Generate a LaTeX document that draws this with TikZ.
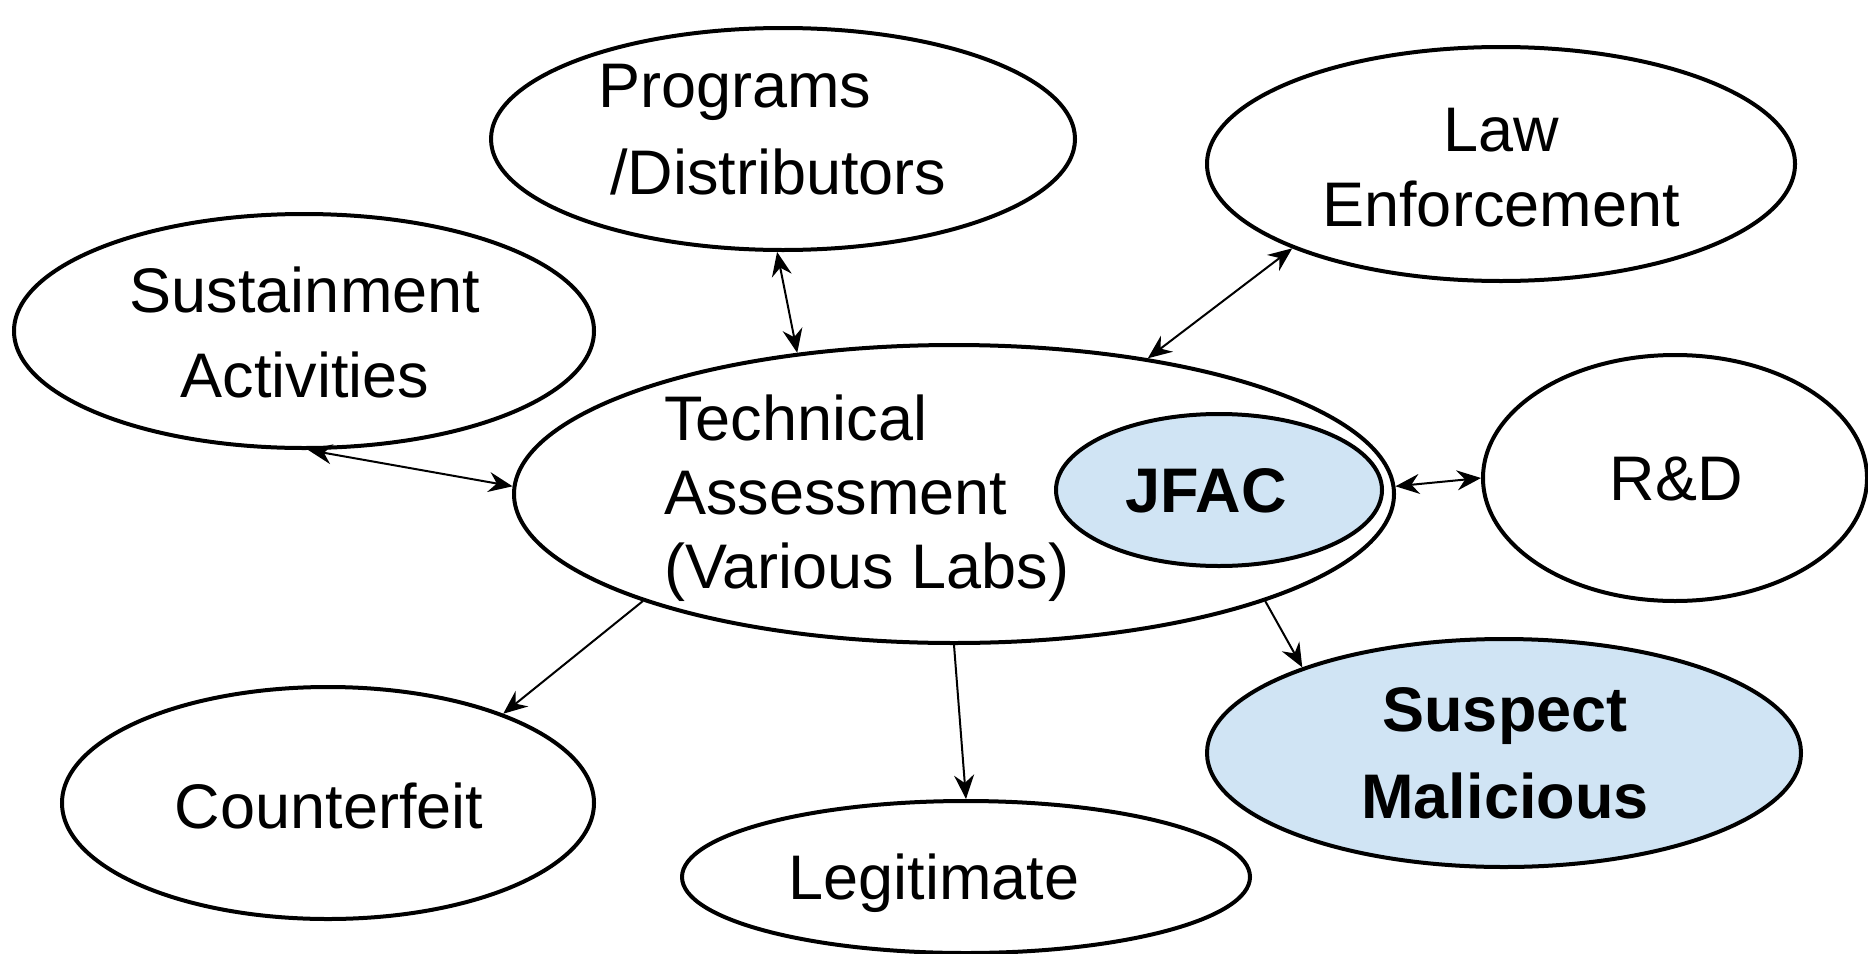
\documentclass[tikz,border=0pt]{standalone}
\usepackage{fontspec}
\setmainfont{Liberation Sans}
\usetikzlibrary{shapes.geometric,arrows.meta}
\definecolor{fillblue}{RGB}{208,228,244}
\newcommand\fsz[1]{\fontsize{31.5}{#1}\selectfont}
\begin{document}
\begin{tikzpicture}[x=0.5pt,y=-0.5pt,
  oval/.style={draw=black,line width=2pt,ellipse,inner sep=0pt,fill=white},
  txt/.style={inner sep=0pt,anchor=base},
  conn/.style={line width=1pt,{Stealth[length=12pt,width=10pt,inset=4pt]}-{Stealth[length=12pt,width=10pt,inset=4pt]}},
  arr/.style={line width=1pt,-{Stealth[length=12pt,width=10pt,inset=4pt]}}
  ]
\useasboundingbox (0,0) rectangle (1868,953);
% shapes
\node[oval,minimum width=292pt,minimum height=111pt] (prog) at (783,139) {};
\node[oval,minimum width=294pt,minimum height=117pt] (law) at (1501,164) {};
\node[oval,minimum width=290pt,minimum height=117pt] (sust) at (304,331) {};
\node[oval,minimum width=440pt,minimum height=149pt] (ta) at (954,494) {};
\node[oval,fill=fillblue,minimum width=163pt,minimum height=76pt] (jfac) at (1219,490) {};
\node[oval,minimum width=192pt,minimum height=123pt] (rd) at (1675,478) {};
\node[oval,fill=fillblue,minimum width=297pt,minimum height=114pt] (sus) at (1504,753) {};
\node[oval,minimum width=266pt,minimum height=116pt] (cf) at (328,803) {};
\node[oval,minimum width=284pt,minimum height=76pt] (leg) at (966,877) {};
% texts (base anchor = baseline of the last line)
\node[txt,anchor=base west,align=left,font=\fsz{43.5}] (progt) at (598,194) {Programs\\\hspace*{6pt}/Distributors};
\node[txt,align=center,font=\fsz{37.5}] (lawt) at (1501,226) {Law\\Enforcement};
\node[txt,align=center,font=\fsz{42.5}] (sustt) at (305,397) {Sustainment\\Activities};
\node[txt,anchor=base west,align=left,font=\fsz{37}] (tat) at (664,588) {Technical\\Assessment\\(Various Labs)};
\node[txt,font=\fsz{37}\bfseries] (jfact) at (1206,512) {JFAC};
\node[txt,font=\fsz{37}] (rdt) at (1676,500) {R\&D};
\node[txt,align=center,font=\fsz{43.5}\bfseries] (sust2) at (1505,818) {Suspect\\Malicious};
\node[txt,font=\fsz{37}] (cft) at (329,828) {Counterfeit};
\node[txt,font=\fsz{37}] (legt) at (934,899) {Legitimate};
% connectors
\draw[conn] (prog.267) -- (ta.138);
\draw[conn] (law.202) -- (ta.35);
\draw[conn] (sust.272) -- (ta.179);
\draw[conn] (ta.1) -- (rd.180);
\draw[arr] (ta.199) -- (cf.27);
\draw[arr] (ta.270) -- (leg.90);
\draw[arr] (ta.341) -- (sus.157);
\end{tikzpicture}
\end{document}
